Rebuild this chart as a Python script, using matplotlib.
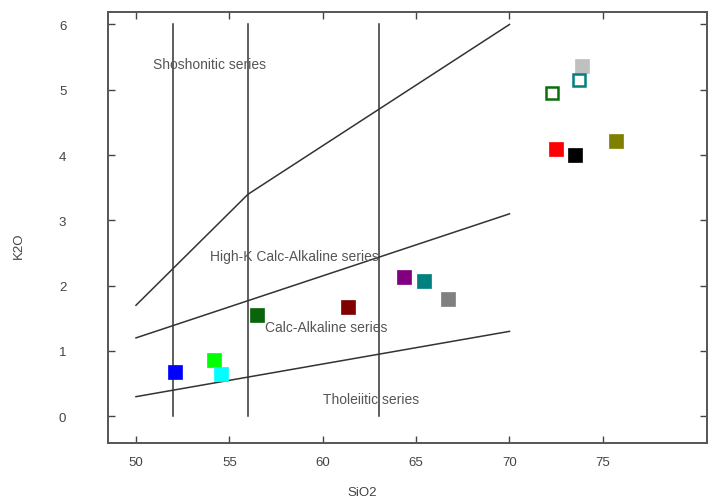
"""
SiO2 vs K2O classification diagram (Peccerillo & Taylor style).
"""
import matplotlib
matplotlib.use("Agg")
import matplotlib.pyplot as plt

TEXT_COL = "#444444"
LINE_COL = "#333333"

# ---------- sample data ----------
sio2 = [52.1, 54.2, 54.55, 56.5, 61.35, 64.35, 65.4, 66.7,
        72.5, 73.5, 75.7, 73.9, 73.7, 72.3]
k2o = [0.67, 0.86, 0.64, 1.55, 1.67, 2.13, 2.07, 1.79,
       4.09, 4.00, 4.21, 5.36, 5.15, 4.95]
colors = ["#0000ff", "#00ff00", "#00ffff", "#0a640a", "#800000", "#800080",
          "#008080", "#808080", "#ff0000", "#000000", "#808000", "#c0c0c0",
          "#008080", "#0a6e0a"]
filled = [True, True, True, True, True, True, True, True,
          True, True, True, True, False, False]

# ---------- boundary lines ----------
tholeiitic_x = [50, 70]
tholeiitic_y = [0.3, 1.3]
highk_x = [50, 70]
highk_y = [1.2, 3.1]
shosh_x = [50, 56, 70]
shosh_y = [1.7, 3.4, 6.0]
vert_x = [52, 56, 63]
vert_y = [0, 6]

labels = ["Shoshonitic series", "High-K Calc-Alkaline series",
          "Calc-Alkaline series", "Tholeiitic series"]
label_x = [50.9, 53.95, 56.9, 60.0]
label_y = [5.39, 2.45, 1.36, 0.27]

fig = plt.figure(figsize=(7.09, 5.02), dpi=100)
ax = fig.add_axes([0.1523, 0.1155, 0.8447, 0.8585])

for xv in vert_x:
    ax.plot([xv, xv], vert_y, color=LINE_COL, linewidth=1.1)
for xs, ys in [(tholeiitic_x, tholeiitic_y), (highk_x, highk_y),
               (shosh_x, shosh_y)]:
    ax.plot(xs, ys, color=LINE_COL, linewidth=1.1)

for txt, tx, ty in zip(labels, label_x, label_y):
    ax.text(tx, ty, txt, fontsize=10, color="#555555",
            family="Liberation Sans", va="center", ha="left")

for x, y, c, f in zip(sio2, k2o, colors, filled):
    if f:
        ax.plot(x, y, "s", ms=9.5, color=c, mec=c, mew=0.5, zorder=3)
    else:
        ax.plot(x, y, "s", ms=8.5, mfc="white", mec=c, mew=1.8, zorder=3)

ax.set_xlim(48.5, 80.57)
ax.set_ylim(-0.41, 6.19)
ax.set_xticks([50, 55, 60, 65, 70, 75])
ax.set_yticks([0, 1, 2, 3, 4, 5, 6])

ax.tick_params(direction="in", top=True, right=True, length=5,
               width=1, colors="#444444", labelsize=9.5)
ax.tick_params(axis="x", pad=9)
ax.tick_params(axis="y", pad=30)
for lab in ax.get_xticklabels() + ax.get_yticklabels():
    lab.set_family("Liberation Sans")
    lab.set_color(TEXT_COL)

for spine in ax.spines.values():
    spine.set_edgecolor("#555555")
    spine.set_linewidth(1.4)

ax.set_xlabel("SiO2", fontsize=9.5, color=TEXT_COL, family="Liberation Sans")
ax.set_ylabel("K2O", fontsize=9.5, color=TEXT_COL, family="Liberation Sans")
ax.xaxis.set_label_coords(0.424, -0.1)
ax.yaxis.set_label_coords(-0.148, 0.46)
ax.yaxis.label.set_verticalalignment("center")

fig.savefig("out.png", dpi=100, facecolor="white")
